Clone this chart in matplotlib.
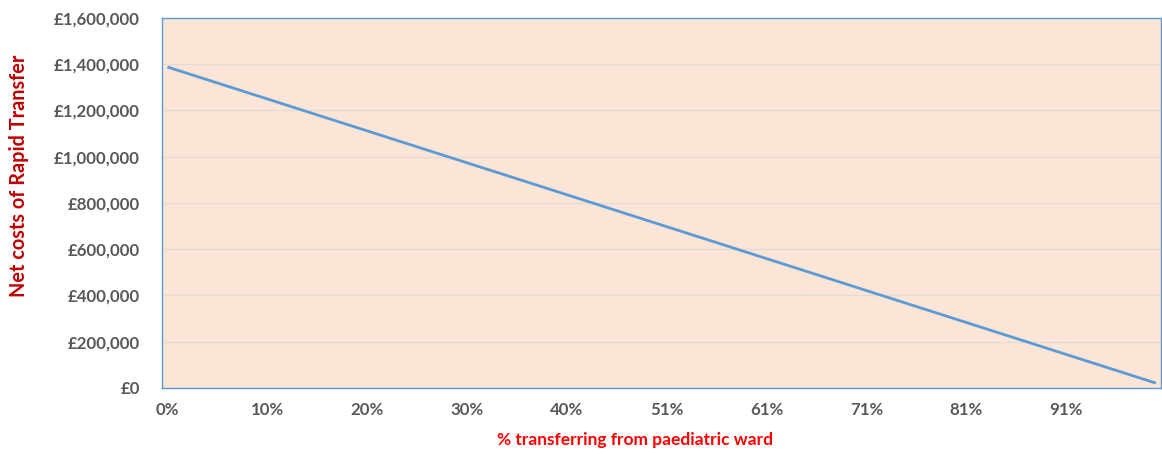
import matplotlib
matplotlib.use("Agg")
import matplotlib.pyplot as plt
from matplotlib.ticker import FuncFormatter, FixedLocator

# Net cost of Rapid Transfer for each share transferring from the paediatric ward
net_costs = [
    1388000, 1374192, 1360384, 1346576, 1332768, 1318960, 1305152, 1291344, 1277536, 1263728,
    1249920, 1236112, 1222304, 1208496, 1194688, 1180880, 1167072, 1153264, 1139456, 1125648,
    1111840, 1098032, 1084224, 1070416, 1056608, 1042800, 1028992, 1015184, 1001376, 987568,
    973760, 959952, 946144, 932336, 918528, 904720, 890912, 877104, 863296, 849488,
    835680, 821872, 808064, 794256, 780448, 766640, 752832, 739024, 725216, 711408,
    697600, 683792, 669984, 656176, 642368, 628560, 614752, 600944, 587136, 573328,
    559520, 545712, 531904, 518096, 504288, 490480, 476672, 462864, 449056, 435248,
    421440, 407632, 393824, 380016, 366208, 352400, 338592, 324784, 310976, 297168,
    283360, 269552, 255744, 241936, 228128, 214320, 200512, 186704, 172896, 159088,
    145280, 131472, 117664, 103856, 90048, 76240, 62432, 48624, 34816, 21008,
]
# Labelled categories on the x axis (every tenth point)
tick_labels = ["0%", "10%", "20%", "30%", "40%", "51%", "61%", "71%", "81%", "91%"]
y_ticks = [0, 200000, 400000, 600000, 800000, 1000000, 1200000, 1400000, 1600000]

plt.rcParams["font.family"] = ["Lato", "DejaVu Sans"]

fig = plt.figure(figsize=(11.62, 4.54), dpi=100)
ax = fig.add_axes([0.1398, 0.1454, 0.8593, 0.8150])
ax.set_facecolor("#FBE5D6")

x = list(range(len(net_costs)))
ax.plot(x, net_costs, color="#5B9BD5", linewidth=2.0, solid_capstyle="butt")

ax.set_xlim(-0.5, len(net_costs) - 0.5)
ax.set_ylim(0, 1600000)

ax.xaxis.set_major_locator(FixedLocator(x[::10]))
ax.set_xticklabels(tick_labels)
ax.set_yticks(y_ticks)
ax.yaxis.set_major_formatter(FuncFormatter(lambda v, _: f"£{v:,.0f}"))

ax.tick_params(axis="both", length=0, labelsize=12.2, labelcolor="#595959")
ax.tick_params(axis="y", pad=16)
ax.tick_params(axis="x", pad=10)
for lbl in ax.get_xticklabels() + ax.get_yticklabels():
    lbl.set_fontweight("bold")

ax.grid(axis="y", color="#E6DCD6", linewidth=1.0)
ax.set_axisbelow(True)
for s in ax.spines.values():
    s.set_color("#5B9BD5")
    s.set_linewidth(1.0)

ax.set_ylabel("Net costs of Rapid Transfer", color="#C00000", fontsize=14.3,
              fontweight="bold")
ax.yaxis.set_label_coords(-0.134, 0.573)
ax.set_xlabel("% transferring from paediatric ward", color="#FF0000", fontsize=12.5,
              fontweight="bold")
ax.xaxis.set_label_coords(0.473, -0.118)

fig.savefig("out.png", dpi=100)
